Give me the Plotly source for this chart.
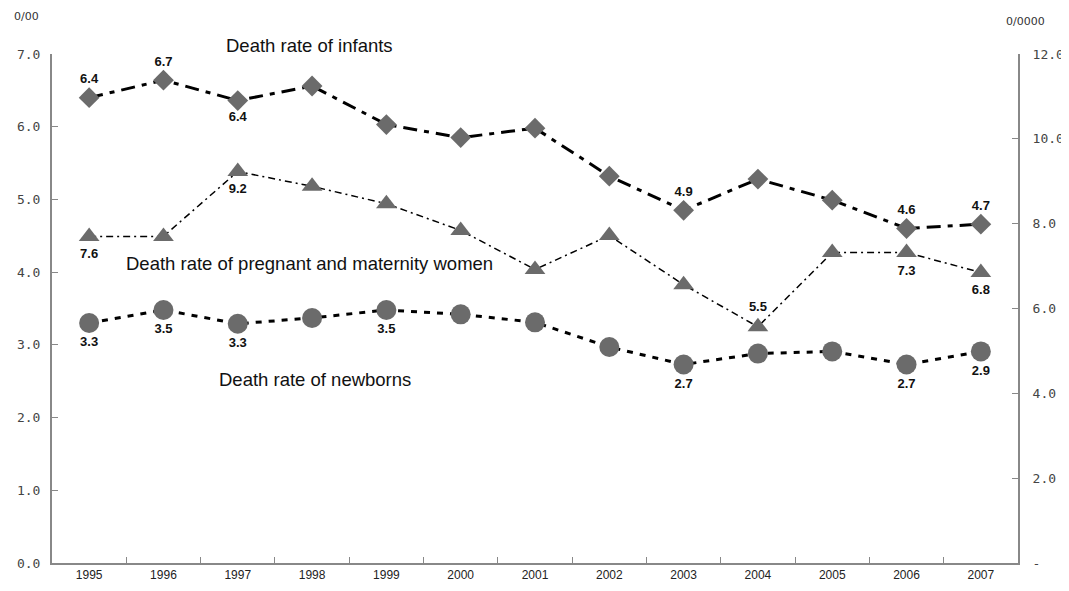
import plotly.graph_objects as go

years = [str(y) for y in range(1995, 2008)]

# left axis, 0/00
infants = [6.40, 6.64, 6.36, 6.56, 6.03, 5.85, 5.98, 5.32, 4.85, 5.28, 4.99, 4.60, 4.66]
infants_lbl = ["6.4", "6.7", "6.4", "", "", "", "", "", "4.9", "", "", "4.6", "4.7"]
infants_pos = ["top center", "top center", "bottom center"] + ["top center"] * 10

newborns = [3.30, 3.48, 3.29, 3.37, 3.48, 3.42, 3.31, 2.97, 2.73, 2.88, 2.91, 2.73, 2.91]
newborns_lbl = ["3.3", "3.5", "3.3", "", "3.5", "", "", "", "2.7", "", "", "2.7", "2.9"]

# right axis, 0/0000
maternal = [7.70, 7.70, 9.23, 8.88, 8.47, 7.84, 6.92, 7.72, 6.56, 5.57, 7.32, 7.32, 6.85]
maternal_lbl = ["7.6", "", "9.2", "", "", "", "", "", "", "5.5", "", "7.3", "6.8"]
maternal_pos = ["bottom center"] * 9 + ["top center"] + ["bottom center"] * 3

left_ticks = [0, 1, 2, 3, 4, 5, 6, 7]
left_text = ["0.0", "1.0", "2.0", "3.0", "4.0", "5.0", "6.0", "7.0"]
right_ticks = [0, 2, 4, 6, 8, 10, 12]
right_text = ["-", "2.0", "4.0", "6.0", "8.0", "10.0", "12.0"]

mk = "#6b6b6b"
lbl_font = dict(family="Liberation Sans, Arial", size=13, color="#111111", weight="bold")

fig = go.Figure()
fig.add_trace(go.Scatter(
    x=years, y=infants, mode="lines+markers+text", text=infants_lbl,
    textposition=infants_pos, textfont=lbl_font,
    line=dict(color="black", width=3, dash="14px,7px,5px,7px"),
    marker=dict(symbol="diamond", size=16, color=mk), cliponaxis=False))
fig.add_trace(go.Scatter(
    x=years, y=maternal, yaxis="y2", mode="lines+markers+text", text=maternal_lbl,
    textposition=maternal_pos, textfont=lbl_font,
    line=dict(color="black", width=1.5, dash="7px,4px,2px,4px"),
    marker=dict(symbol="triangle-up", size=18, color=mk), cliponaxis=False))
fig.add_trace(go.Scatter(
    x=years, y=newborns, mode="lines+markers+text", text=newborns_lbl,
    textposition="bottom center", textfont=lbl_font,
    line=dict(color="black", width=3, dash="6px,7px"),
    marker=dict(symbol="circle", size=20, color=mk), cliponaxis=False))

ann_font = dict(family="Liberation Sans, Arial", size=18.5, color="#111111")
fig.add_annotation(x=2.97, yref="y domain", y=1.016, text="Death rate of infants", showarrow=False,
                   font=ann_font, xanchor="center", yanchor="middle")
fig.add_annotation(x=2.97, y=4.12, text="Death rate of pregnant and maternity women", showarrow=False,
                   font=ann_font, xanchor="center", yanchor="middle")
fig.add_annotation(x=3.04, y=2.53, text="Death rate of newborns", showarrow=False, font=ann_font,
                   xanchor="center", yanchor="middle")

unit_font = dict(family="DejaVu Sans, sans-serif", size=11, color="#333333")
fig.add_annotation(xref="paper", yref="paper", x=-0.041, y=1.073, text="0/00", showarrow=False,
                   font=unit_font, xanchor="left", yanchor="middle")
fig.add_annotation(xref="paper", yref="paper", x=0.985, y=1.063, text="0/0000", showarrow=False,
                   font=unit_font, xanchor="left", yanchor="middle")

tick_font = dict(family="DejaVu Sans Mono, monospace", size=13, color="#444444")
fig.update_layout(
    width=1069, height=591,
    margin=dict(l=44, r=59, t=46, b=36),
    paper_bgcolor="white", plot_bgcolor="white",
    showlegend=False,
    xaxis=dict(type="category", range=[-0.5, 12.5], tickson="boundaries", ticks="inside",
               ticklen=6, tickcolor="#888888", showline=True, linecolor="#888888", linewidth=2,
               showgrid=False, automargin=False,
               tickfont=dict(family="Liberation Sans, Arial", size=12, color="#222222")),
    yaxis=dict(range=[0, 7], tickvals=left_ticks, ticktext=left_text, ticks="inside", ticklen=6,
               tickcolor="#888888", showline=True, linecolor="#888888", linewidth=2,
               showgrid=False, zeroline=False, tickfont=tick_font, ticklabelstandoff=7,
               automargin=False),
    yaxis2=dict(range=[0, 12], tickvals=right_ticks, ticktext=right_text, overlaying="y",
                side="right", ticks="inside", ticklen=6, tickcolor="#888888", showline=True,
                linecolor="#888888", linewidth=2, showgrid=False, zeroline=False, tickfont=tick_font,
                ticklabelstandoff=10, automargin=False),
)

fig.write_html("out.html")
